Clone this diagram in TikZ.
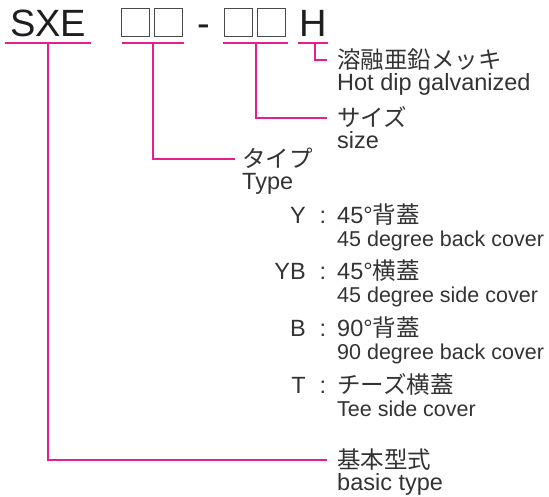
\documentclass[tikz,border=0pt]{standalone}
\usepackage{fontspec}
\setmainfont{Liberation Sans}
\newfontfamily\jpfont{Noto Sans CJK JP}
\usetikzlibrary{positioning}
\definecolor{ink}{HTML}{333333}
\definecolor{dark}{HTML}{1E1E1E}
\definecolor{lead}{RGB}{232,30,140}
\definecolor{boxgray}{HTML}{4A4A4A}
\tikzset{
	big/.style={font=\fontsize{38}{38}\selectfont, text=dark},
	blank/.style={draw=boxgray, line width=1.3pt, minimum size=28pt},
	jp/.style={font=\jpfont\fontsize{23.5}{24}\selectfont, text height=19pt, text depth=2pt},
	en/.style={font=\fontsize{23.5}{24}\selectfont},
	sub/.style={font=\fontsize{21.5}{22}\selectfont},
	leader/.style={draw=lead, line width=1.4pt},
}
\begin{document}
\begin{tikzpicture}[x=1pt, y=-1pt, every node/.style={inner sep=0pt, text=ink}]
	\useasboundingbox (0,0) rectangle (549,496);
	% 型号
	\node[big, anchor=base west] (sxe) at (10,36) {SXE};
	\node[blank] (t1) at (135.5,22.5) {};
	\node[blank] (t2) at (168.5,22.5) {};
	\node[big, anchor=base] (dash) at (204,36) {-};
	\node[blank] (s1) at (238.5,22.5) {};
	\node[blank] (s2) at (271.5,22.5) {};
	\node[big, anchor=base west] (hot) at (299,36) {H};
	
	% 下划线
	\draw[leader] (5,43) -- (91,43);
	\draw[leader] (122,43) -- (184,43);
	\draw[leader] (223,43) -- (288,43);
	\draw[leader] (298,43) -- (328,43);
	\coordinate (d0) at (48,43);
	\coordinate (d1) at (153,43);
	\coordinate (d2) at (256,43);
	\coordinate (d3) at (315,43);
	
	% 说明
	\node[jp, anchor=west] (galvjp) at (337,60) {溶融亜鉛メッキ};
	\node[en, anchor=base west] (galven) at ([yshift=-22pt]galvjp.base west) {Hot dip galvanized};
	\node[jp, anchor=west] (sizejp) at (337,118) {サイズ};
	\node[en, anchor=base west] (sizeen) at ([yshift=-22pt]sizejp.base west) {size};
	\node[jp, anchor=west] (typejp) at (242,159) {タイプ};
	\node[en, anchor=base west] (typeen) at ([yshift=-22pt]typejp.base west) {Type};
	\node[jp, anchor=west] (basicjp) at (337,460) {基本型式};
	\node[en, anchor=base west] (basicen) at ([yshift=-22pt]basicjp.base west) {basic type};
	
	\draw[leader, shorten >=10pt] (d3) |- (galvjp.west);
	\draw[leader, shorten >=10pt] (d2) |- (sizejp.west);
	\draw[leader, shorten >=7pt] (d1) |- (typejp.west);
	\draw[leader, shorten >=10pt] (d0) |- (basicjp.west);
	
	% 类型一览
	\foreach \code/\name/\desc [count=\i] in {Y/{45°\jpfont 背蓋}/45 degree back cover,
		YB/{45°\jpfont 横蓋}/45 degree side cover,
		B/{90°\jpfont 背蓋}/90 degree back cover,
		T/{\jpfont チーズ横蓋}/Tee side cover}{
		\pgfmathsetmacro\yb{223+56.7*(\i-1)}
		\node[en, anchor=base east] (code\i) at (306,\yb) {\code};
		\node[en, anchor=base] (colon\i) at (323,\yb) {:};
		\node[en, anchor=base west] (name\i) at (337,\yb) {\name};
		\node[sub, anchor=base west] (desc\i) at ([yshift=-23pt]name\i.base west) {\desc};
	}
\end{tikzpicture}
\end{document}
